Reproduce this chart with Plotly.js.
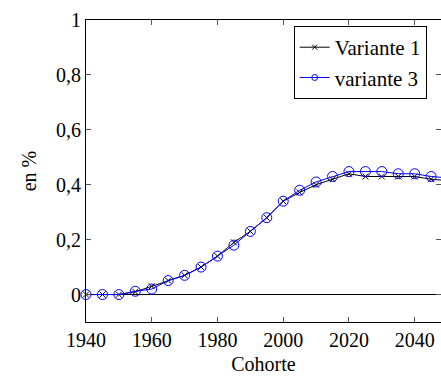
<!DOCTYPE html>
<html>
<head>
<meta charset="utf-8">
<script src="https://cdn.plot.ly/plotly-3.0.1.min.js"></script>
<style>html,body{margin:0;padding:0;background:#fff;}#chart{width:441px;height:376px;}</style>
</head>
<body>
<div id="chart"></div>
<script>
const cohortes = [1940,1945,1950,1955,1960,1965,1970,1975,1980,1985,1990,1995,2000,2005,2010,2015,2020,2025,2030,2035,2040,2045,2050];
const variante1 = [0,0,0,0.01,0.03,0.051,0.07,0.10,0.14,0.19,0.23,0.28,0.34,0.372,0.40,0.42,0.44,0.43,0.43,0.43,0.43,0.42,0.415];
const variante3 = [0,0,0,0.012,0.02,0.051,0.07,0.10,0.14,0.18,0.23,0.28,0.34,0.38,0.41,0.43,0.448,0.448,0.448,0.44,0.44,0.43,0.425];
const seriesNames = ['Variante 1', 'variante 3'];
const xTickVals = [1940,1960,1980,2000,2020,2040];
const xTickText = ["1940","1960","1980","2000","2020","2040"];
const yTickVals = [0,0.2,0.4,0.6,0.8,1];
const yTickText = ["0","0,2","0,4","0,6","0,8","1"];

const font = {family: "'Liberation Serif', 'DejaVu Serif', serif", size: 20, color: '#000'};
const legendFont = {family: "'Liberation Serif', 'DejaVu Serif', serif", size: 21, color: '#000'};

const styleV1 = {line: {color: '#000', width: 1}, symbol: 'x-thin', color: '#000'};
const styleV3 = {line: {color: '#0000ff', width: 1}, symbol: 'circle-open', color: '#0000ff'};

const traces = [
  {x: cohortes, y: variante1, name: seriesNames[0], mode: 'lines+markers', showlegend: false,
   line: styleV1.line, marker: {symbol: styleV1.symbol, size: 6, line: {color: styleV1.color, width: 1}, color: styleV1.color},
   cliponaxis: false},
  {x: cohortes, y: variante3, name: seriesNames[1], mode: 'lines+markers', showlegend: false,
   line: styleV3.line, marker: {symbol: styleV3.symbol, size: 10, line: {color: styleV3.color, width: 1}, color: styleV3.color},
   cliponaxis: false},
  // legend entries with smaller markers (like the reference legend)
  {x: [null], y: [null], name: seriesNames[0], mode: 'lines+markers', showlegend: true,
   line: styleV1.line, marker: {symbol: styleV1.symbol, size: 5, line: {color: styleV1.color, width: 1}, color: styleV1.color}},
  {x: [null], y: [null], name: seriesNames[1], mode: 'lines+markers', showlegend: true,
   line: styleV3.line, marker: {symbol: styleV3.symbol, size: 6, line: {color: styleV3.color, width: 1}, color: styleV3.color}}
];

const layout = {
  width: 441, height: 376,
  margin: {l: 86, r: 0, t: 20, b: 54},
  paper_bgcolor: '#fff', plot_bgcolor: '#fff',
  font: font,
  showlegend: true,
  legend: {x: 0.585, y: 0.98, xanchor: 'left', yanchor: 'top', bgcolor: '#fff', bordercolor: '#000', borderwidth: 1,
           font: legendFont, tracegroupgap: 0, itemwidth: 30},
  xaxis: {range: [1940, 2048], tickvals: xTickVals, ticktext: xTickText, ticks: 'inside', ticklen: 5, tickcolor: '#555',
          showline: true, linecolor: '#000', linewidth: 1, mirror: 'ticks', showgrid: false, zeroline: false,
          title: {text: 'Cohorte', font: font, standoff: 6}, tickfont: font},
  yaxis: {range: [-0.1, 1], tickvals: yTickVals, ticktext: yTickText, ticks: 'inside', ticklen: 5, tickcolor: '#555',
          showline: true, linecolor: '#000', linewidth: 1, mirror: 'ticks', showgrid: false,
          zeroline: true, zerolinecolor: '#000', zerolinewidth: 1,
          title: {text: 'en %', font: font, standoff: 14}, tickfont: font}
};

Plotly.newPlot('chart', traces, layout, {displayModeBar: false, staticPlot: true});
</script>
</body>
</html>
